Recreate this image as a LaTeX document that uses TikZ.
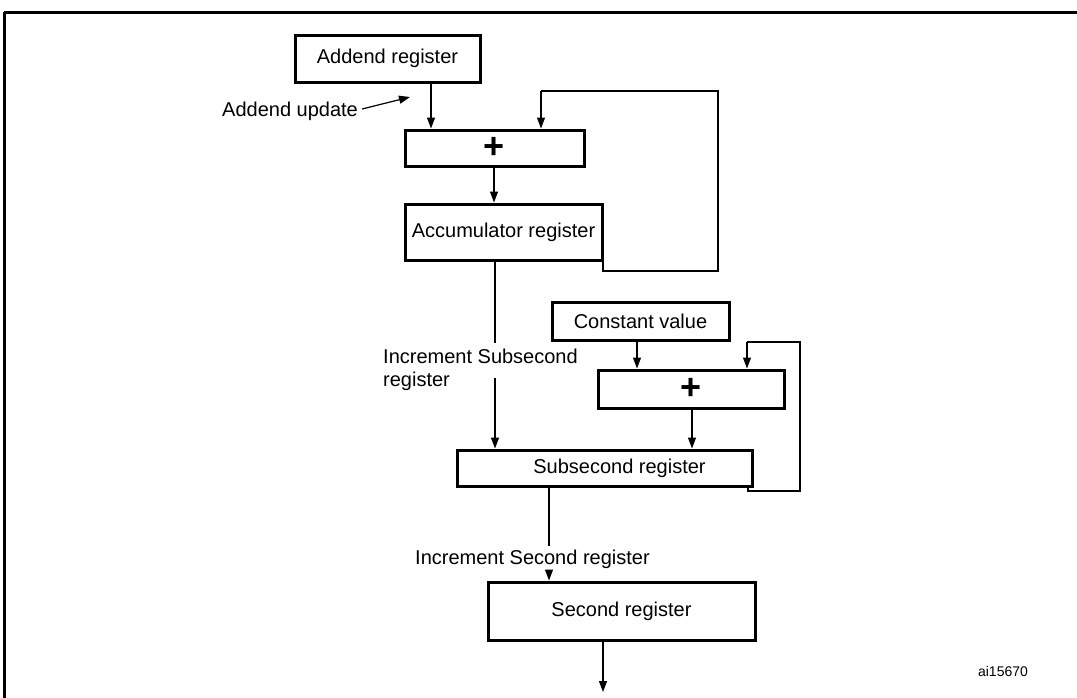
\documentclass[tikz,border=0pt]{standalone}
\usepackage{fontspec}
\setmainfont{Liberation Sans}
\usetikzlibrary{arrows.meta}
\begin{document}
\begin{tikzpicture}[x=1pt,y=-1pt,font=\fontsize{20}{23}\selectfont,
  reg/.style={draw, line width=3pt, inner sep=0pt},
  link/.style={line width=1.2pt, -{Triangle[length=11pt,width=8pt]}},
  wire/.style={line width=1.2pt}]
  \useasboundingbox (0,0) rectangle (1077,697);
  \draw[line width=3pt] (4,12) -- (1080,12);
  \draw[line width=3pt] (4,12) -- (4,700);

  % registers and adders
  \node[reg, minimum width=185pt, minimum height=47pt] (addend) at (387.5,58.5) {Addend register};
  \node[reg, minimum width=179pt, minimum height=36pt] (add1) at (494.5,148) {\textbf{\fontsize{36}{36}\selectfont +}};
  \node[reg, minimum width=197pt, minimum height=56pt] (acc) at (503.5,232) {Accumulator register};
  \node[reg, minimum width=177pt, minimum height=38pt] (const) at (640.5,321) {Constant value};
  \node[reg, minimum width=186pt, minimum height=38pt] (add2) at (691,389) {\textbf{\fontsize{36}{36}\selectfont +}};
  \node[reg, minimum width=295pt, minimum height=36pt] (sub) at (604.5,468) {\hspace*{30pt}Subsecond register};
  \node[reg, minimum width=267pt, minimum height=58pt] (sec) at (621.5,611) {Second register};

  % labels
  \node[anchor=west, inner sep=0pt] (lupd) at (222,111) {Addend update};
  \node[anchor=north west, align=left, inner sep=0pt] (linc) at (383,349) {Increment Subsecond\\register};
  \node[anchor=west, inner sep=0pt] (linc2) at (415,559) {Increment Second register};
  \node[font=\fontsize{14}{16}\selectfont] (code) at (1003,671) {ai15670};

  % connectors
  \draw[link] (lupd.east) ++(4,-2) -- (410,97);
  \draw[link] (addend.south -| 431,0) -- (add1.north -| 431,0);
  \draw[link] (add1.south -| 494,0) -- (acc.north -| 494,0);
  \draw[wire] (acc.south -| 603,0) |- (718,271) |- (541,91);
  \draw[link] (541,91) -- (add1.north -| 541,0);
  \draw[wire] (acc.south -| 495,0) -- (495,343);
  \draw[link] (495,378) -- (sub.north -| 495,0);
  \draw[link] (const.south -| 637,0) -- (add2.north -| 637,0);
  \draw[link] (add2.south -| 692,0) -- (sub.north -| 692,0);
  \draw[wire] (sub.south -| 748,0) |- (800,491) |- (747,342);
  \draw[link] (747,342) -- (add2.north -| 747,0);
  \draw[wire] (sub.south -| 549,0) -- (549,546);
  \draw[link] (549,572) -- (sec.north -| 549,0);
  \draw[link] (sec.south -| 603,0) -- (603,692);
\end{tikzpicture}
\end{document}
